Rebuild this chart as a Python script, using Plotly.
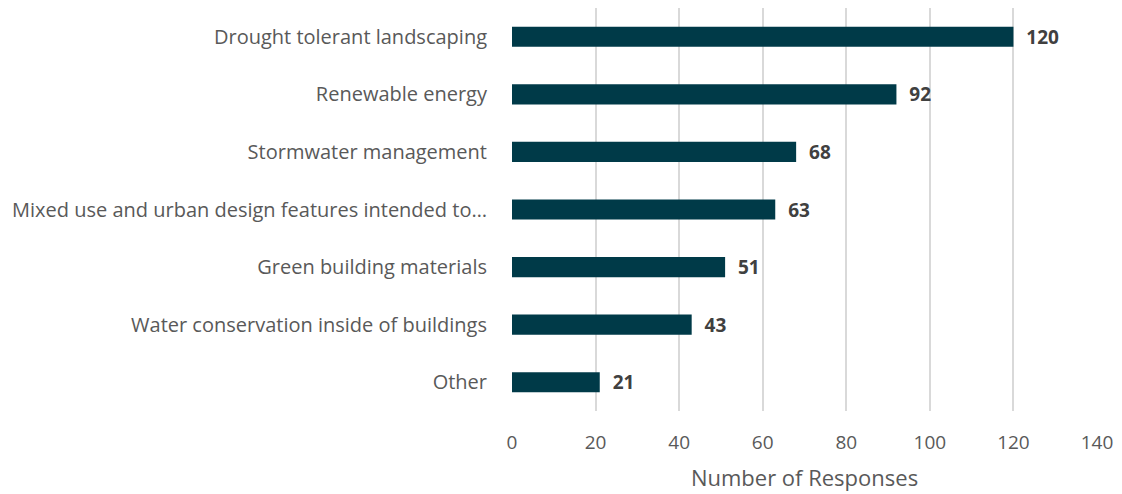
import plotly.graph_objects as go

categories = [
    "Drought tolerant landscaping",
    "Renewable energy",
    "Stormwater management",
    "Mixed use and urban design features intended to…",
    "Green building materials",
    "Water conservation inside of buildings",
    "Other",
]
responses = [120, 92, 68, 63, 51, 43, 21]
x_ticks = [0, 20, 40, 60, 80, 100, 120, 140]

font_name = "Open Sans"

fig = go.Figure()
fig.add_trace(go.Bar(
    y=categories,
    x=responses,
    orientation="h",
    width=0.35,
    marker=dict(color="#003a48", line=dict(width=0)),
    text=["<b>" + str(v) + "</b>" for v in responses],
    texttemplate="  %{text}",
    textposition="outside",
    constraintext="none",
    cliponaxis=False,
    textfont=dict(family=font_name, size=19, color="#404040"),
))

fig.update_layout(
    width=1122,
    height=494,
    margin=dict(l=512, r=25, t=8, b=83),
    plot_bgcolor="white",
    paper_bgcolor="white",
    showlegend=False,
    font=dict(family=font_name, color="#595959"),
    xaxis=dict(
        range=[0, 140],
        tickvals=x_ticks,
        showgrid=True,
        gridcolor="#d9d9d9",
        gridwidth=1.5,
        zeroline=False,
        showline=False,
        ticks="outside",
        ticklen=14,
        tickcolor="rgba(0,0,0,0)",
        tickfont=dict(size=19, color="#595959"),
        title=dict(text="Number of Responses", font=dict(size=22, color="#595959"), standoff=16),
    ),
    yaxis=dict(
        autorange="reversed",
        showgrid=False,
        zeroline=False,
        showline=False,
        ticks="outside",
        ticklen=20,
        tickcolor="rgba(0,0,0,0)",
        tickfont=dict(size=20, color="#595959"),
    ),
)

fig.write_html("out.html", config={"displayModeBar": False},
               post_script="document.body.style.margin='0';")
